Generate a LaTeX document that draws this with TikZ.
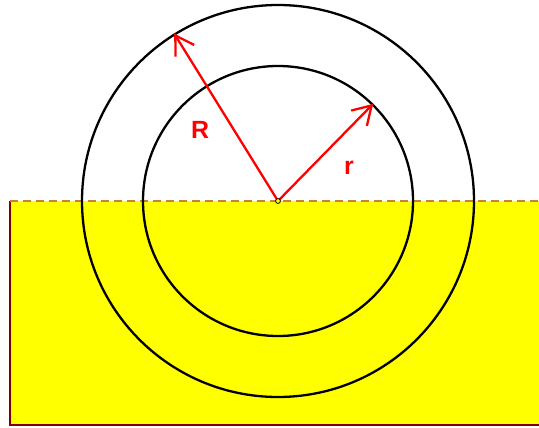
\documentclass[tikz,border=0pt]{standalone}
\usepackage{fontspec}
\setmainfont{Liberation Sans}
\usetikzlibrary{arrows.meta,calc}
\definecolor{dashbrown}{HTML}{C8803A}
\definecolor{edgered}{HTML}{800000}
\definecolor{fillyellow}{HTML}{FFFF00}
\definecolor{arrowred}{HTML}{FF0000}
\begin{document}
\begin{tikzpicture}[x=1bp,y=1bp,
		ring/.style={draw=black,line width=2.3bp},
		radarrow/.style={draw=arrowred,line width=2.3bp,-{Straight Barb[length=18bp,width=22bp,line width=2.3bp]}},
		lbl/.style={text=arrowred,font=\fontsize{25}{25}\selectfont\bfseries,inner sep=0pt}]
	\useasboundingbox (0,0) rectangle (539,427);
	\clip (0,0) rectangle (539,427);
	% Nền vàng
	\fill[fillyellow] (10,2) rectangle (545,226);
	\draw[edgered,line width=2.4bp] (545,2) -- (10,2) -- (10,226);
	\draw[dashbrown,line width=1.8bp,dash pattern=on 8bp off 5bp] (10,226) -- (545,226);
	% Tâm và hai đường tròn
	\coordinate (O) at (278,226);
	\draw[ring] (O) circle (196);
	\draw[ring] (O) circle (135);
	% Bán kính
	\coordinate (Rend) at ($(O)+(121.8:197)$);
	\coordinate (rend) at ($(O)+(45.6:136)$);
	\draw[radarrow] (O) -- (Rend);
	\draw[radarrow] (O) -- (rend);
	\fill[fillyellow,draw=black,line width=0.8bp] (O) circle (2.4);
	% Nhãn
	\node[lbl] (labelR) at (200,297) {R};
	\node[lbl] (labelr) at (349,259) {r};
\end{tikzpicture}
\end{document}
